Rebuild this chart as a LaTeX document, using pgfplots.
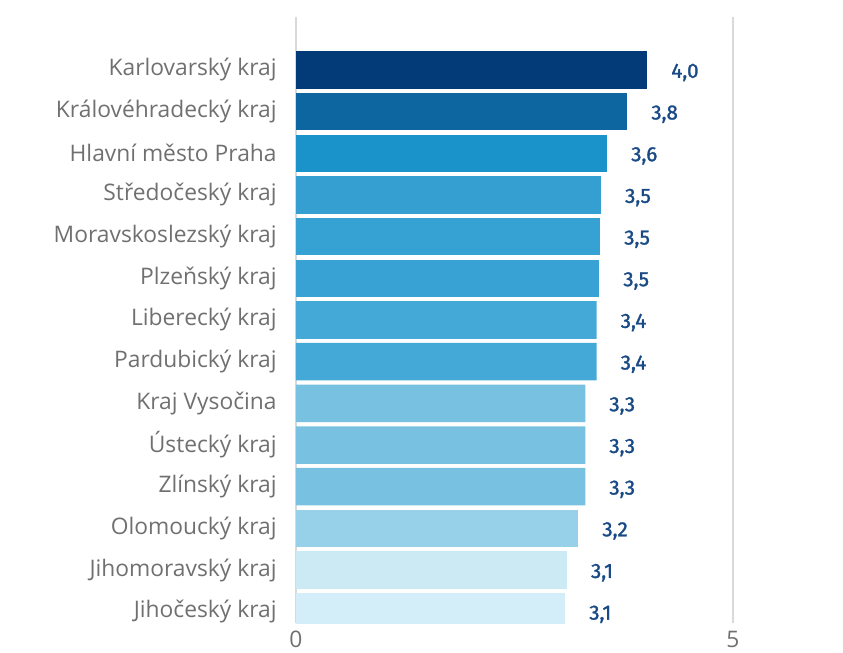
\documentclass[border=0pt]{standalone}
\usepackage{pgfplots}
\pgfplotsset{compat=1.18}
\usepackage{fontspec}
\setmainfont{Open Sans}
\newfontfamily\valfont{Fira Sans}[FakeBold=1.4]
\usetikzlibrary{calc}

\definecolor{labgray}{HTML}{707070}
\definecolor{gridgray}{HTML}{D9D9D9}
\definecolor{valblue}{HTML}{1A4A86}
\definecolor{c13}{HTML}{023B77}
\definecolor{c12}{HTML}{0E66A1}
\definecolor{c11}{HTML}{1A92CA}
\definecolor{c10}{HTML}{349FD0}
\definecolor{c9}{HTML}{36A1D3}
\definecolor{c8}{HTML}{38A2D4}
\definecolor{c7}{HTML}{44A9D7}
\definecolor{c5}{HTML}{78C1E0}
\definecolor{c2}{HTML}{97D0E9}
\definecolor{c1}{HTML}{CBEAF4}
\definecolor{c0}{HTML}{D3EEF8}

\begin{document}
\begin{tikzpicture}
\begin{axis}[
    name=ax, at={(0,0)}, anchor=south west,
    scale only axis, width=218.5pt, height=303pt,
    xmin=0, xmax=5, ymin=-0.27, ymax=14.27,
    xbar, bar width=0.9, bar shift=0,
    axis line style={draw=none},
    major tick length=0pt,
    xtick={0,5},
    xmajorgrids, grid style={gridgray, line width=0.75pt},
    ytick={0,...,13},
    yticklabels={Jihočeský kraj, Jihomoravský kraj, Olomoucký kraj, Zlínský kraj,
        Ústecký kraj, Kraj Vysočina, Pardubický kraj, Liberecký kraj,
        Plzeňský kraj, Moravskoslezský kraj, Středočeský kraj,
        Hlavní město Praha, Královéhradecký kraj, Karlovarský kraj},
    yticklabel style={font=\fontsize{11.4}{13}\selectfont, text=labgray,
        inner sep=0pt, xshift=-9.5pt},
    xticklabel style={font=\fontsize{11.4}{13}\selectfont, text=labgray,
        inner sep=0pt, yshift=-4pt},
    /pgf/number format/assume math mode=true,
    nodes near coords,
    nodes near coords align={horizontal},
    every node near coord/.append style={anchor=west, xshift=8.5pt, yshift=-1.3pt,
        font=\valfont\fontsize{10.3}{12}\selectfont, text=valblue,
        /pgf/number format/.cd, fixed, fixed zerofill, precision=1, use comma},
    every axis plot/.append style={draw=none},
]
\addplot[fill=c13] coordinates {(4.02,13)};
\addplot[fill=c12] coordinates {(3.79,12)};
\addplot[fill=c11] coordinates {(3.56,11)};
\addplot[fill=c10] coordinates {(3.49,10)};
\addplot[fill=c9]  coordinates {(3.48,9)};
\addplot[fill=c8]  coordinates {(3.47,8)};
\addplot[fill=c7]  coordinates {(3.44,7) (3.44,6)};
\addplot[fill=c5]  coordinates {(3.31,5) (3.31,4) (3.31,3)};
\addplot[fill=c2]  coordinates {(3.23,2)};
\addplot[fill=c1]  coordinates {(3.10,1)};
\addplot[fill=c0]  coordinates {(3.08,0)};
\end{axis}
\pgfresetboundingbox
\path[use as bounding box] ($(ax.south west)+(-148pt,-14.5pt)$) rectangle ($(ax.north east)+(55pt,8.5pt)$);
\end{tikzpicture}
\end{document}
